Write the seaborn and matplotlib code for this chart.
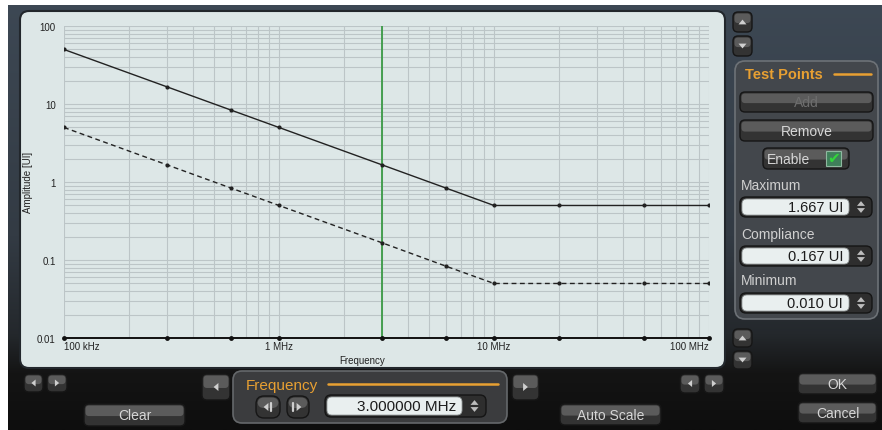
import numpy as np
import pandas as pd
import matplotlib
matplotlib.use("Agg")
import matplotlib.pyplot as plt
import seaborn as sns
from matplotlib.patches import FancyBboxPatch, Polygon, Rectangle
from matplotlib.colors import LinearSegmentedColormap

# ---------------- data ----------------
frequency_hz = [1e5, 3e5, 6e5, 1e6, 3e6, 6e6, 1e7, 2e7, 5e7, 1e8]
maximum_ui = [50, 16.67, 8.33, 5.0, 1.667, 0.833, 0.5, 0.5, 0.5, 0.5]
compliance_ui = [5.0, 1.667, 0.833, 0.5, 0.167, 0.083, 0.05, 0.05, 0.05, 0.05]
minimum_ui = [0.01, 0.01, 0.01, 0.01, 0.01, 0.01, 0.01, 0.01, 0.01, 0.01]
marker_freq_hz = 3e6
x_tick_values = [1e5, 1e6, 1e7, 1e8]
x_tick_labels = ["100 kHz", "1 MHz", "10 MHz", "100 MHz"]
y_tick_values = [0.01, 0.1, 1, 10, 100]
y_tick_labels = ["0.01", "0.1", "1", "10", "100"]
field_labels = ["Maximum", "Compliance", "Minimum"]
field_values = ["1.667 UI", "0.167 UI", "0.010 UI"]
freq_value = "3.000000 MHz"

sns.set_theme(style="white")
plt.rcParams["font.family"] = ["Liberation Sans", "DejaVu Sans"]

W, H = 882, 431
fig = plt.figure(figsize=(W / 100, H / 100), dpi=100)
bg = fig.add_axes([0, 0, 1, 1])
bg.set_xlim(0, W)
bg.set_ylim(H, 0)
bg.axis("off")
bg.set_zorder(0)

# background gradient
cmap = LinearSegmentedColormap.from_list(
    "bgc", [(0, "#3d4854"), (0.55, "#333b44"), (0.78, "#24282c"), (0.87, "#141414"), (1, "#0e0e0e")])
grad = np.linspace(0, 1, 256).reshape(-1, 1)
bg.imshow(grad, extent=(0, W, H, 0), aspect="auto", cmap=cmap, zorder=0)
# white margins
bg.add_patch(Rectangle((0, 0), 8, H, fc="white", ec="none", zorder=1))
bg.add_patch(Rectangle((0, 0), W, 6, fc="white", ec="none", zorder=1))

# main light panel
bg.add_patch(FancyBboxPatch((20, 12), 705, 357, boxstyle="round,pad=0,rounding_size=9",
                            fc="#dde7e7", ec="#22272c", lw=1.5, zorder=2))


def button(x0, y0, x1, y1, text=None, fs=10, tc="#d6d6d6", r=5, z=3, tx=None):
    w, h = x1 - x0, y1 - y0
    bg.add_patch(FancyBboxPatch((x0, y0), w, h, boxstyle=f"round,pad=0,rounding_size={r}",
                                fc="#333333", ec="#161616", lw=1, zorder=z))
    bg.add_patch(FancyBboxPatch((x0 + 1.5, y0 + 1.5), w - 3, h * 0.48,
                                boxstyle=f"round,pad=0,rounding_size={max(r-1.5,1)}",
                                fc="#5b5b5b", ec="none", zorder=z + 0.1))
    if text:
        bg.text((x0 + x1) / 2 if tx is None else tx, (y0 + y1) / 2 + 0.5, text, fontsize=fs,
                color=tc, ha="center", va="center", zorder=z + 0.5)


def tri(cx, cy, d, s=4, color="#cfcfcf", z=4):
    if d == "up":
        pts = [(cx - s, cy + s * 0.6), (cx + s, cy + s * 0.6), (cx, cy - s * 0.6)]
    elif d == "down":
        pts = [(cx - s, cy - s * 0.6), (cx + s, cy - s * 0.6), (cx, cy + s * 0.6)]
    elif d == "left":
        pts = [(cx + s * 0.6, cy - s), (cx + s * 0.6, cy + s), (cx - s * 0.6, cy)]
    else:
        pts = [(cx - s * 0.6, cy - s), (cx - s * 0.6, cy + s), (cx + s * 0.6, cy)]
    bg.add_patch(Polygon(pts, closed=True, fc=color, ec="none", zorder=z))


def arrow_button(x0, y0, x1, y1, d, s=4, r=5):
    button(x0, y0, x1, y1, r=r)
    tri((x0 + x1) / 2, (y0 + y1) / 2, d, s=s)


def spin_field(x0, y0, x1, y1, value, spin_w=22, fs=10.5):
    bg.add_patch(FancyBboxPatch((x0, y0), x1 - x0 + spin_w, y1 - y0,
                                boxstyle="round,pad=0,rounding_size=6",
                                fc="#2e2e2e", ec="#151515", lw=1, zorder=3))
    bg.add_patch(FancyBboxPatch((x0 + 2, y0 + 2), x1 - x0 - 3, y1 - y0 - 4,
                                boxstyle="round,pad=0,rounding_size=5",
                                fc="#e9efef", ec="#9aa0a0", lw=0.6, zorder=3.2))
    bg.text(x1 - 7, (y0 + y1) / 2 + 0.5, value, fontsize=fs, color="#1c1c1c",
            ha="right", va="center", zorder=4)
    cx = x1 + spin_w / 2
    cy = (y0 + y1) / 2
    tri(cx, cy - 3.5, "up", s=4, color="#bdbdbd")
    tri(cx, cy + 3.5, "down", s=4, color="#bdbdbd")


# right side up/down buttons
arrow_button(733, 13, 752, 33, "up")
arrow_button(733, 37, 752, 57, "down")
arrow_button(733, 330, 752, 348, "up")
arrow_button(733, 352, 752, 370, "down")

# Test Points panel
bg.add_patch(FancyBboxPatch((735, 62), 143, 258, boxstyle="round,pad=0,rounding_size=10",
                            fc="#43474c", ec="#6d7277", lw=1.2, zorder=2.5))
bg.text(745, 75, "Test Points", fontsize=10.5, fontweight="bold", color="#e8a032",
        ha="left", va="center", zorder=4)
bg.plot([834, 871], [75, 75], color="#e8a032", lw=1.8, zorder=4)
button(740, 93, 873, 113, "Add", tc="#6e6e6e")
button(740, 121, 873, 142, "Remove")
button(763, 149, 849, 170, "Enable", tx=789)
bg.add_patch(Rectangle((826, 152), 15, 15, fc="#3f7f5a", ec="#8fb8a0", lw=0.8, zorder=4.5))
bg.text(834, 159, "\u2714", fontsize=11, color="#33d63a", ha="center", va="center",
        family="DejaVu Sans", zorder=5)

label_y = [186, 235, 281]
field_y = [(198, 218), (247, 267), (294, 314)]
for lab, val, ly, (fy0, fy1) in zip(field_labels, field_values, label_y, field_y):
    bg.text(741, ly, lab, fontsize=10, color="#cfcfcf", ha="left", va="center", zorder=4)
    spin_field(740, fy0, 850, fy1, val)

# bottom row
arrow_button(24, 375, 43, 393, "left", s=3.5)
arrow_button(47, 375, 67, 393, "right", s=3.5)
button(84, 405, 185, 427, "Clear")
arrow_button(202, 375, 230, 401, "left")
arrow_button(512, 375, 539, 401, "right")
arrow_button(680, 375, 700, 394, "left", s=3.5)
arrow_button(704, 375, 724, 394, "right", s=3.5)
button(560, 405, 661, 426, "Auto Scale")
button(798, 374, 877, 395, "OK")
button(798, 403, 877, 424, "Cancel")

# Frequency panel
bg.add_patch(FancyBboxPatch((233, 372), 274, 52, boxstyle="round,pad=0,rounding_size=9",
                            fc="#3b3c3e", ec="#65686b", lw=1.2, zorder=2.5))
bg.text(246, 386, "Frequency", fontsize=11, color="#e8a032", ha="left", va="center", zorder=4)
bg.plot([328, 498], [385, 385], color="#e8a032", lw=1.8, zorder=4)
button(256, 397, 280, 419, r=8)
tri(266, 408, "left", s=4)
bg.plot([271, 271], [404, 412], color="#cfcfcf", lw=1.6, zorder=4)
button(287, 397, 309, 419, r=8)
bg.plot([293, 293], [404, 412], color="#cfcfcf", lw=1.6, zorder=4)
tri(299, 408, "right", s=4)
spin_field(325, 396, 463, 418, freq_value, spin_w=23, fs=11)

# ---------------- plot ----------------
x0p, x1p, y0p, y1p = 64, 709, 27, 339
ax = fig.add_axes([x0p / W, 1 - y1p / H, (x1p - x0p) / W, (y1p - y0p) / H])
ax.set_zorder(5)
ax.patch.set_alpha(0)
ax.set_xscale("log")
ax.set_yscale("log")
ax.set_xlim(1e5, 1e8)
ax.set_ylim(0.01, 100)
ax.grid(True, which="both", color="#bcc5c7", lw=0.8)
ax.set_axisbelow(True)
for s in ax.spines.values():
    s.set_visible(False)

ax.axvline(marker_freq_hz, color="#3b9a46", lw=1.3, zorder=2)
sns.lineplot(x=frequency_hz, y=maximum_ui, ax=ax, color="#222222", lw=1.0,
             marker="o", markersize=3, markeredgewidth=0, zorder=3)
sns.lineplot(x=frequency_hz, y=compliance_ui, ax=ax, color="#222222", lw=1.0,
             linestyle=(0, (3.5, 2.5)), marker="o", markersize=3, markeredgewidth=0, zorder=3)
sns.lineplot(x=frequency_hz, y=minimum_ui, ax=ax, color="#111111", lw=1.4,
             marker="o", markersize=3.5, markeredgewidth=0, zorder=3, clip_on=False)

ax.set_xticks(x_tick_values)
ax.set_xticklabels(x_tick_labels)
ax.set_yticks(y_tick_values)
ax.set_yticklabels(y_tick_labels)
ax.tick_params(axis="both", which="both", length=0, labelsize=7, colors="#222222")
ax.tick_params(axis="x", pad=2)
ax.tick_params(axis="y", pad=6)
xt = ax.get_xticklabels()
xt[0].set_ha("left")
xt[-1].set_ha("right")
ax.minorticks_on()
ax.tick_params(which="minor", length=0)
ax.xaxis.set_minor_formatter(matplotlib.ticker.NullFormatter())
ax.yaxis.set_minor_formatter(matplotlib.ticker.NullFormatter())

ax.set_xlabel("Frequency", fontsize=7, color="#222222")
ax.xaxis.set_label_coords((362 - x0p) / (x1p - x0p), -(356 - y1p) / (y1p - y0p))
ax.set_ylabel("Amplitude [UI]", fontsize=7, color="#222222")
ax.yaxis.set_label_coords(-(64 - 33) / (x1p - x0p), (y1p - 182) / (y1p - y0p))

fig.savefig("out.png", dpi=100)
